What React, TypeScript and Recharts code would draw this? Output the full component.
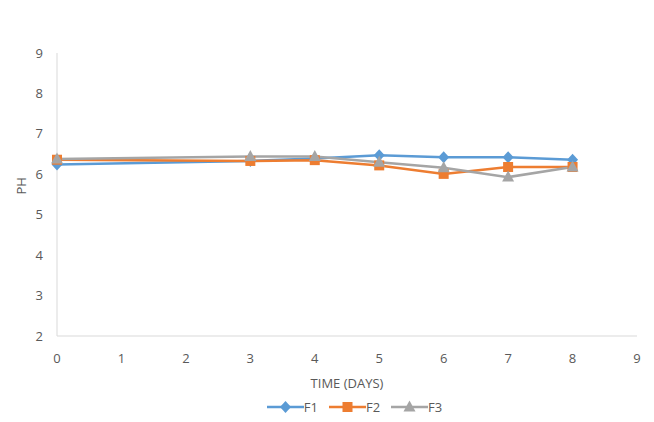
import { LineChart, Line, XAxis, YAxis, Legend } from 'recharts'

const days = [0, 3, 4, 5, 6, 7, 8]
const f1 = [6.24, 6.33, 6.39, 6.47, 6.42, 6.42, 6.36]
const f2 = [6.36, 6.33, 6.35, 6.22, 6.01, 6.18, 6.18]
const f3 = [6.38, 6.44, 6.44, 6.3, 6.16, 5.93, 6.18]
const xTicks = [0, 1, 2, 3, 4, 5, 6, 7, 8, 9]
const yTicks = [2, 3, 4, 5, 6, 7, 8, 9]

const data = days.map((d, i) => ({ day: d, F1: f1[i], F2: f2[i], F3: f3[i] }))

const BLUE = '#5b9bd5'
const ORANGE = '#ed7d31'
const GRAY = '#a5a5a5'
const TEXT = '#595959'
const FONT = '"Open Sans", "Liberation Sans", sans-serif'

// marker shapes drawn at the point the library hands us
function Marker({ cx, cy, kind, color }: any) {
    if (cx == null || cy == null) return null
    if (kind === 'diamond') {
        return <path d={`M${cx},${cy - 6} L${cx + 5.5},${cy} L${cx},${cy + 6} L${cx - 5.5},${cy} Z`} fill={color} />
    }
    if (kind === 'square') {
        return <rect x={cx - 5} y={cy - 5} width={10} height={10} fill={color} />
    }
    return <path d={`M${cx},${cy - 6.5} L${cx + 6},${cy + 4.5} L${cx - 6},${cy + 4.5} Z`} fill={color} />
}

const series = [
    { key: 'F1', color: BLUE, kind: 'diamond' },
    { key: 'F2', color: ORANGE, kind: 'square' },
    { key: 'F3', color: GRAY, kind: 'triangle' },
]

function LegendBox() {
    return (
        <div style={{ display: 'flex', justifyContent: 'center', gap: 11, paddingLeft: 72, fontFamily: FONT, fontSize: 13, color: TEXT }}>
            {series.map(s => (
                <div key={s.key} style={{ display: 'flex', alignItems: 'center' }}>
                    <svg width={37} height={14}>
                        <line x1={0} y1={7} x2={37} y2={7} stroke={s.color} strokeWidth={2.5} />
                        <Marker cx={18.5} cy={7} kind={s.kind} color={s.color} />
                    </svg>
                    <span>{s.key}</span>
                </div>
            ))}
        </div>
    )
}

export default function App() {
    return (
        <div style={{ position: 'absolute', left: 0, top: 0, width: 654, height: 422, background: '#fff' }}>
            <LineChart width={654} height={422} data={data} margin={{ top: 53, right: 17, left: 0, bottom: 0 }}>
                <XAxis
                    dataKey="day"
                    type="number"
                    domain={[0, 9]}
                    ticks={xTicks}
                    interval={0}
                    tickLine={false}
                    tickSize={6}
                    tickMargin={12}
                    axisLine={{ stroke: '#d9d9d9' }}
                    tick={{ fill: TEXT, fontSize: 13, fontFamily: FONT }}
                    height={68}
                    label={{ value: 'TIME (DAYS)', position: 'insideBottom', offset: 16, fill: TEXT, fontSize: 13, fontFamily: FONT }}
                />
                <YAxis
                    type="number"
                    domain={[2, 9]}
                    ticks={yTicks}
                    interval={0}
                    tickLine={false}
                    tickSize={6}
                    tickMargin={8}
                    width={57}
                    axisLine={{ stroke: '#d9d9d9' }}
                    tick={{ fill: TEXT, fontSize: 13, fontFamily: FONT }}
                    label={{ value: 'PH', angle: -90, position: 'insideLeft', offset: 21, fill: TEXT, fontSize: 13, fontFamily: FONT }}
                />
                <Legend verticalAlign="bottom" content={<LegendBox />} wrapperStyle={{ bottom: 6 }} />
                {series.map(s => (
                    <Line
                        key={s.key}
                        dataKey={s.key}
                        stroke={s.color}
                        strokeWidth={2.5}
                        type="linear"
                        isAnimationActive={false}
                        dot={(p: any) => <Marker key={`${s.key}-${p.index}`} cx={p.cx} cy={p.cy} kind={s.kind} color={s.color} />}
                        activeDot={false}
                    />
                ))}
            </LineChart>
        </div>
    )
}
